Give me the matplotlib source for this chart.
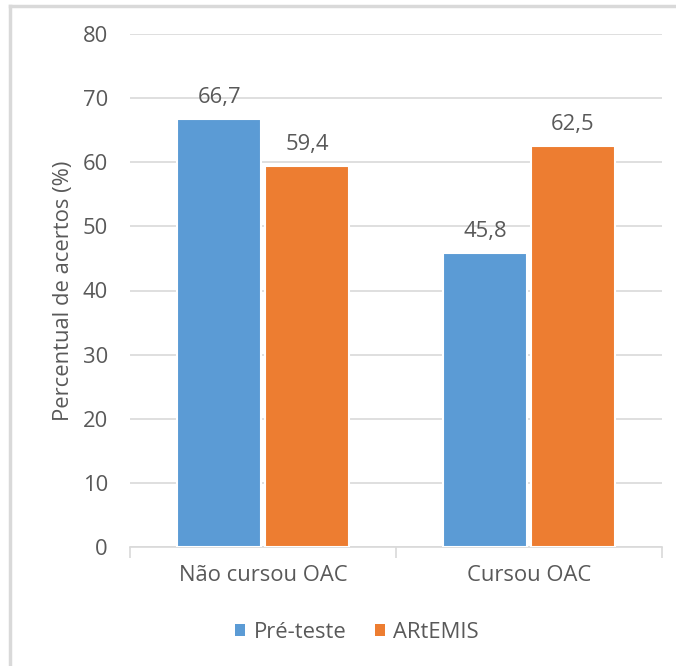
import matplotlib
matplotlib.use("Agg")
import matplotlib.pyplot as plt
from matplotlib.lines import Line2D
from matplotlib.patches import Patch
import numpy as np

categories = ["Não cursou OAC", "Cursou OAC"]
series_names = ["Pré-teste", "ARtEMIS"]
pre_teste = [66.7, 45.8]
artemis = [59.4, 62.5]
y_ticks = [0, 10, 20, 30, 40, 50, 60, 70, 80]
y_label = "Percentual de acertos (%)"

colors = ["#5B9BD5", "#ED7D31"]
text_color = "#595959"
grid_color = "#D9D9D9"
fs = 15.8

plt.rcParams["font.family"] = ["Open Sans", "DejaVu Sans"]

W, H = 676, 666
fig = plt.figure(figsize=(W / 100, H / 100), dpi=100)
ax = fig.add_axes([130 / W, 1 - 547 / H, 532 / W, 513 / H])

x = np.arange(len(categories))
width = 0.316
offset = 0.165
for vals, name, col, sign in [(pre_teste, series_names[0], colors[0], -1),
                              (artemis, series_names[1], colors[1], 1)]:
    bars = ax.bar(x + sign * offset, vals, width, color=col, edgecolor="white",
                  linewidth=1.5, label=name, zorder=3)
    for b, v in zip(bars, vals):
        ax.annotate(f"{v:.1f}".replace(".", ","),
                    (b.get_x() + b.get_width() / 2, v),
                    xytext=(0, 8), textcoords="offset points",
                    ha="center", va="bottom", fontsize=fs, color=text_color)

ax.set_xlim(-0.5, len(categories) - 0.5)
ax.set_ylim(0, 80)
ax.set_yticks(y_ticks)
ax.set_xticks(x)
ax.set_xticklabels(categories)
ax.set_xticks(np.arange(-0.5, len(categories), 1.0), minor=True)

ax.grid(axis="y", color=grid_color, linewidth=1.2, zorder=0)
for s in ["top", "right", "left"]:
    ax.spines[s].set_visible(False)
ax.spines["bottom"].set_color(grid_color)
ax.spines["bottom"].set_linewidth(1.2)

ax.tick_params(axis="y", length=0, pad=16, labelsize=fs, labelcolor=text_color)
ax.tick_params(axis="x", which="major", length=0, pad=13, labelsize=fs,
               labelcolor=text_color)
ax.tick_params(axis="x", which="minor", length=8, width=1.2, color=grid_color)

ax.set_ylabel(y_label, fontsize=fs, color=text_color, labelpad=6)

handles = [Patch(facecolor=c, edgecolor="none") for c in colors]
fig.legend(handles, series_names, loc="center",
           bbox_to_anchor=(357 / W, 1 - 632 / H), ncol=2, frameon=False,
           fontsize=fs, labelcolor=text_color, handlelength=0.45,
           handleheight=0.45, handletextpad=0.4, columnspacing=1.3)

# chart frame (left and top edges)
fig.add_artist(Line2D([10 / W, 10 / W], [0, 1 - 6 / H], transform=fig.transFigure,
                      color=grid_color, linewidth=2.5))
fig.add_artist(Line2D([10 / W, 1], [1 - 6 / H, 1 - 6 / H], transform=fig.transFigure,
                      color=grid_color, linewidth=2.5))

fig.savefig("out.png", dpi=100, facecolor="white")
